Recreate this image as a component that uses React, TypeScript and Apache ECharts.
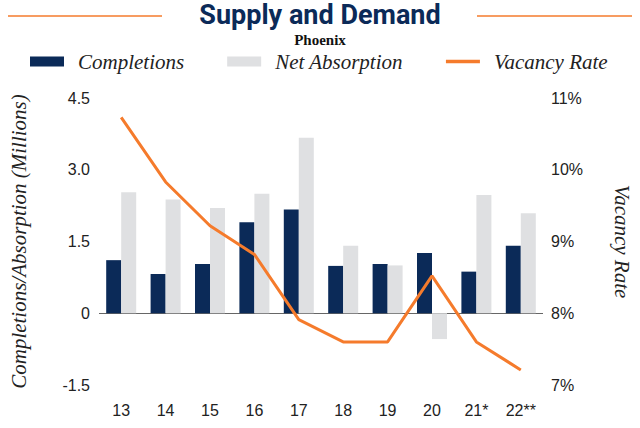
import React, { useEffect, useRef } from "react";
import * as echarts from "echarts";

const years = ["13", "14", "15", "16", "17", "18", "19", "20", "21*", "22**"];
const completions = [1.11, 0.82, 1.03, 1.9, 2.17, 0.99, 1.03, 1.26, 0.87, 1.41];
const netAbsorption = [2.53, 2.38, 2.2, 2.5, 3.67, 1.41, 1.0, -0.54, 2.47, 2.09];
const vacancyRate = [10.73, 9.83, 9.22, 8.82, 7.91, 7.6, 7.6, 8.52, 7.6, 7.21];
const leftTicks = [-1.5, 0, 1.5, 3.0, 4.5];
const rightTicks = [7, 8, 9, 10, 11];

const NAVY = "#0b2a58";
const GREY = "#dfe0e2";
const ORANGE = "#f57b2c";
const SERIF = "'Liberation Serif', 'DejaVu Serif', serif";
const SANS = "'Liberation Sans', Roboto, sans-serif";

export default function App() {
  const ref = useRef<HTMLDivElement>(null);
  useEffect(() => {
    if (!ref.current) return;
    const chart = echarts.init(ref.current, null, { renderer: "svg" });
    chart.setOption({
      animation: false,
      backgroundColor: "#ffffff",
      title: [
        {
          text: "Supply and Demand",
          left: "center",
          top: 2,
          padding: 0,
          textStyle: {
            color: NAVY,
            fontSize: 27,
            lineHeight: 26,
            fontWeight: "bold",
            fontFamily: "Roboto, sans-serif",
          },
        },
        {
          text: "Phoenix",
          left: "center",
          top: 33,
          padding: 0,
          textStyle: { color: "#111", fontSize: 15, lineHeight: 14, fontWeight: "bold", fontFamily: SERIF },
        },
      ],
      graphic: [
        { type: "line", shape: { x1: 8, y1: 16, x2: 162, y2: 16 }, style: { stroke: ORANGE, lineWidth: 1.5 } },
        { type: "line", shape: { x1: 477, y1: 16, x2: 632, y2: 16 }, style: { stroke: ORANGE, lineWidth: 1.5 } },
      ],
      legend: {
        left: 25,
        top: 46,
        itemWidth: 34,
        itemHeight: 10,
        itemGap: 43,
        textStyle: {
          fontFamily: SERIF,
          fontStyle: "italic",
          fontSize: 21,
          lineHeight: 20,
          color: "#222",
          padding: [0, 0, 0, 9],
        },
        data: [
          { name: "Completions", icon: "rect" },
          { name: "Net Absorption", icon: "rect" },
          { name: "Vacancy Rate", icon: "path://M0,0 L40,0 L40,4 L0,4 Z" },
        ],
      },
      grid: { left: 98, right: 96, top: 98, bottom: 43 },
      xAxis: {
        type: "category",
        data: years,
        axisLine: { show: false },
        axisTick: { show: false },
        axisLabel: { fontFamily: SANS, fontSize: 16, color: "#222", margin: 17 },
      },
      yAxis: [
        {
          type: "value",
          min: -1.5,
          max: 4.5,
          interval: 1.5,
          splitLine: { show: false },
          axisLine: { show: false },
          axisTick: { show: false },
          axisLabel: {
            fontFamily: SANS,
            fontSize: 16,
            color: "#222",
            margin: 9,
            formatter: (v: number) => (leftTicks.includes(v) ? (v === 0 ? "0" : v.toFixed(1)) : ""),
          },
          name: "Completions/Absorption (Millions)",
          nameLocation: "middle",
          nameRotate: 90,
          nameGap: 70,
          nameTextStyle: { fontFamily: SERIF, fontStyle: "italic", fontSize: 21, color: "#222" },
        },
        {
          type: "value",
          min: 7,
          max: 11,
          interval: 1,
          position: "right",
          splitLine: { show: false },
          axisLine: { show: false },
          axisTick: { show: false },
          axisLabel: {
            fontFamily: SANS,
            fontSize: 16,
            color: "#222",
            margin: 8,
            formatter: (v: number) => (rightTicks.includes(v) ? v + "%" : ""),
          },
          name: "Vacancy Rate",
          nameLocation: "middle",
          nameRotate: -90,
          nameGap: 68,
          nameTextStyle: { fontFamily: SERIF, fontStyle: "italic", fontSize: 21, color: "#222" },
        },
      ],
      series: [
        {
          name: "Completions",
          type: "bar",
          data: completions,
          barWidth: 15,
          barGap: "0%",
          itemStyle: { color: NAVY },
          markLine: {
            silent: true,
            symbol: "none",
            label: { show: false },
            lineStyle: { color: "#666", width: 1.2, type: "solid" },
            data: [{ yAxis: 0 }],
            z: 1,
          },
        },
        {
          name: "Net Absorption",
          type: "bar",
          data: netAbsorption,
          barWidth: 15,
          barGap: "0%",
          itemStyle: { color: GREY },
        },
        {
          name: "Vacancy Rate",
          type: "line",
          yAxisIndex: 1,
          data: vacancyRate,
          symbol: "none",
          lineStyle: { color: ORANGE, width: 3 },
          itemStyle: { color: ORANGE },
          z: 5,
        },
      ],
    });
    return () => chart.dispose();
  }, []);
  return <div ref={ref} style={{ width: 640, height: 428, position: "absolute", left: 0, top: 0 }} />;
}
